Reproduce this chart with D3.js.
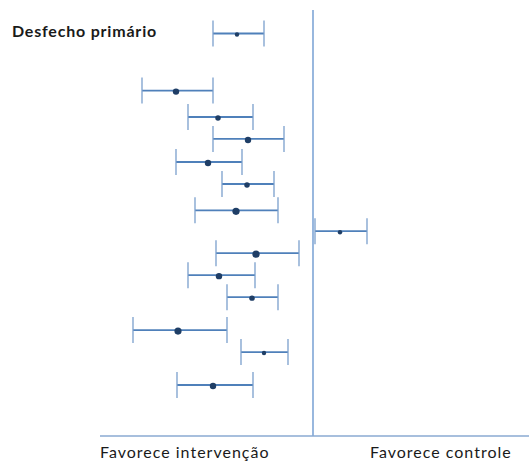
<!DOCTYPE html>
<html>
<head>
<meta charset="utf-8">
<script src="https://cdn.jsdelivr.net/npm/d3@7"></script>
<style>
  html, body { margin: 0; padding: 0; background: #ffffff; }
  svg { display: block; }
  text { font-family: Lato, "Open Sans", sans-serif; fill: #1a1a1a; }
</style>
</head>
<body>
<svg id="chart" width="529" height="464"></svg>
<script>
// Row positions (in row units, top = 0)
const rows = [0, 2.6, 3.8, 4.8, 5.85, 6.85, 8.05, 9.0, 10.0, 11.0, 12.0, 13.5, 14.5, 16.0];
// Effect estimates and confidence intervals (0 = no difference)
const lower = [-10.0, -17.1, -12.5, -10.0, -13.7, -9.1, -11.8, 0.2, -9.7, -12.5, -8.6, -18.0, -7.2, -13.6];
const estimate = [-7.6, -13.7, -9.5, -6.5, -10.5, -6.6, -7.7, 2.7, -5.7, -9.4, -6.1, -13.5, -4.9, -10.0];
const upper = [-4.9, -10.0, -6.0, -2.9, -7.1, -3.9, -3.5, 5.4, -1.4, -5.8, -3.5, -8.6, -2.5, -6.0];
// Relative weight of each study (marker size)
const weight = [1, 2, 1.5, 2, 2, 1.5, 2.5, 1, 2.5, 2, 1.5, 2.5, 1, 2];
const topLabel = "Desfecho primário";
const leftLabel = "Favorece intervenção";
const rightLabel = "Favorece controle";

const data = rows.map((r, i) => ({ row: r, lo: lower[i], est: estimate[i], hi: upper[i], w: weight[i] }));

const svg = d3.select("#chart");
const x = d3.scaleLinear().domain([-21.3, 21.6]).range([100, 529]);
const y = d3.scaleLinear().domain([0, 16]).range([33.5, 385]);
const r = d3.scaleSqrt().domain([1, 2.5]).range([2.2, 3.6]);
const yBase = 436;

// Null-effect vertical line
svg.append("line")
  .attr("x1", x(0)).attr("x2", x(0))
  .attr("y1", 10).attr("y2", yBase)
  .attr("stroke", "#7fa6d6").attr("stroke-width", 1.6);

// Horizontal axis line
svg.append("line")
  .attr("x1", x(-21.3)).attr("x2", x(21.6))
  .attr("y1", yBase).attr("y2", yBase)
  .attr("stroke", "#8aaad2").attr("stroke-width", 1.6);

const capH = 13;
const g = svg.append("g").selectAll("g").data(data).join("g");

g.append("line")
  .attr("x1", d => x(d.lo)).attr("x2", d => x(d.hi))
  .attr("y1", d => y(d.row)).attr("y2", d => y(d.row))
  .attr("stroke", "#4f80ba").attr("stroke-width", 1.8);

g.append("line")
  .attr("x1", d => x(d.lo)).attr("x2", d => x(d.lo))
  .attr("y1", d => y(d.row) - capH).attr("y2", d => y(d.row) + capH)
  .attr("stroke", "#7a9fcd").attr("stroke-width", 1.3);

g.append("line")
  .attr("x1", d => x(d.hi)).attr("x2", d => x(d.hi))
  .attr("y1", d => y(d.row) - capH).attr("y2", d => y(d.row) + capH)
  .attr("stroke", "#7a9fcd").attr("stroke-width", 1.3);

g.append("circle")
  .attr("cx", d => x(d.est)).attr("cy", d => y(d.row) + 1)
  .attr("r", d => r(d.w))
  .attr("fill", "#1f3e66");

svg.append("text")
  .attr("x", 12).attr("y", 37)
  .attr("font-size", 16).attr("font-weight", "bold")
  .attr("letter-spacing", 0.8)
  .text(topLabel);

svg.append("text")
  .attr("x", 100).attr("y", 458)
  .attr("font-size", 16)
  .attr("letter-spacing", 1)
  .text(leftLabel);

svg.append("text")
  .attr("x", 370).attr("y", 458)
  .attr("font-size", 16)
  .attr("letter-spacing", 1)
  .text(rightLabel);
</script>
</body>
</html>
